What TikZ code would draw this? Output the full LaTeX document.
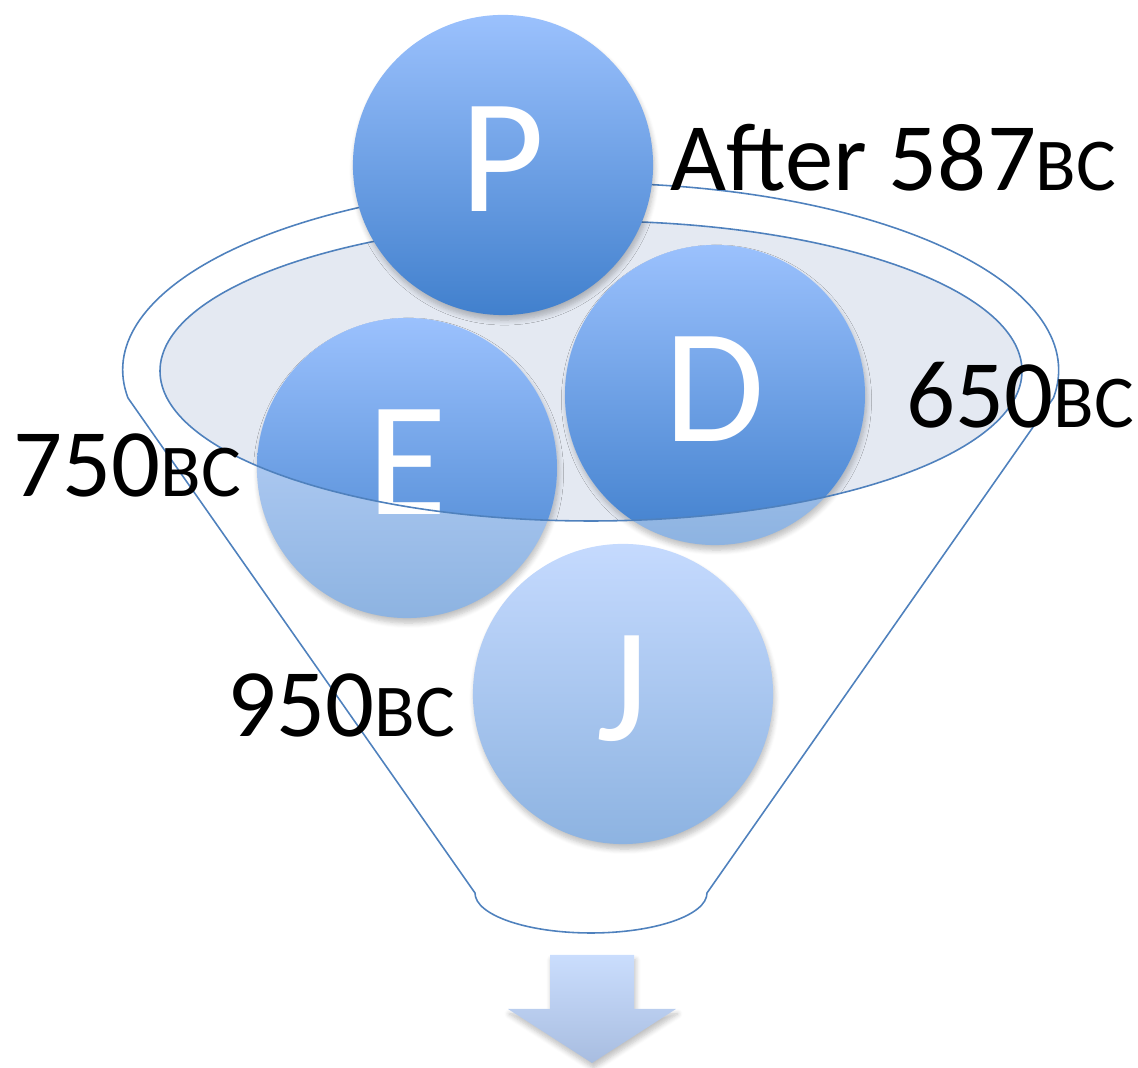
\documentclass[tikz,border=0pt]{standalone}
\usepackage{fontspec}
\setmainfont{Carlito}
\usepackage{tikz}
\usetikzlibrary{shadows.blur}
\definecolor{cima}{RGB}{155,193,253}
\definecolor{fondo}{RGB}{65,128,205}
\definecolor{palecima}{RGB}{197,218,254}
\definecolor{palefondo}{RGB}{141,179,225}
\definecolor{sfondo}{RGB}{228,233,242}
\definecolor{linea}{RGB}{79,129,189}
\definecolor{frecciacima}{RGB}{202,221,253}
\definecolor{frecciafondo}{RGB}{168,189,224}
\newcommand{\sigla}[1]{{\fontsize{21.2}{24}\selectfont #1}}
\tikzset{
main node/.style={circle,inner sep=0pt,minimum size=3cm,top color=cima,bottom color=fondo,
  blur shadow={shadow blur steps=6,shadow xshift=0.15mm,shadow yshift=-0.5mm,shadow blur radius=0.5mm,shadow opacity=25}},
pale node/.style={main node,top color=palecima,bottom color=palefondo},
lettera/.style={text=white,font=\fontsize{46.4}{50}\selectfont,inner sep=0pt,anchor=base},
etichetta/.style={font=\fontsize{27.5}{32}\selectfont,inner sep=0pt,anchor=base west},
imbuto/.style={draw=linea,line width=0.45pt},
freccia/.style={top color=frecciacima,bottom color=frecciafondo,
  blur shadow={shadow blur steps=6,shadow xshift=0.15mm,shadow yshift=-0.5mm,shadow blur radius=0.5mm,shadow opacity=25}}}

\begin{document}
\begin{tikzpicture}[x=0.01cm,y=-0.01cm]
\useasboundingbox (0,0) rectangle (1138,1068);

% funnel outline and mouth
\draw[imbuto] (128,398) arc[start angle=171.4,end angle=368.6,x radius=468,y radius=187]
  -- (707,893) arc[start angle=0,end angle=180,x radius=116,y radius=40] -- cycle;
\fill[sfondo] (591,371) ellipse[x radius=431,y radius=150];

\node[pale node] (E) at (407,468) {};
\node[pale node] (D) at (715,395) {};
\node[pale node] (J) at (623,694) {};

\begin{scope}
\clip (591,371) ellipse[x radius=431,y radius=150];
\path[top color=cima,bottom color=fondo] (E.center) circle (150);
\path[top color=cima,bottom color=fondo] (D.center) circle (150);
\end{scope}

\node[lettera] (lE) at ([yshift=-0.46cm]E.center) {E};
\node[lettera] (lD) at ([yshift=-0.46cm]D.center) {D};
\node[lettera] (lJ) at ([yshift=-0.46cm]J.center) {J};

\draw[imbuto] (591,371) ellipse[x radius=431,y radius=150];

\node[main node] (P) at (503,165) {};
\node[lettera] (lP) at ([yshift=-0.46cm]P.center) {P};

% dates
\node[etichetta] (t587) at (670,191) {After 587\sigla{BC}};
\node[etichetta] (t650) at (906,428) {650\sigla{BC}};
\node[etichetta] (t750) at (13,497) {750\sigla{BC}};
\node[etichetta] (t950) at (227,737) {950\sigla{BC}};

\path[freccia] (550,955) -- (634,955) -- (634,1009) -- (676,1009) -- (592,1063)
  -- (508,1009) -- (550,1009) -- cycle;

\end{tikzpicture}
\end{document}
